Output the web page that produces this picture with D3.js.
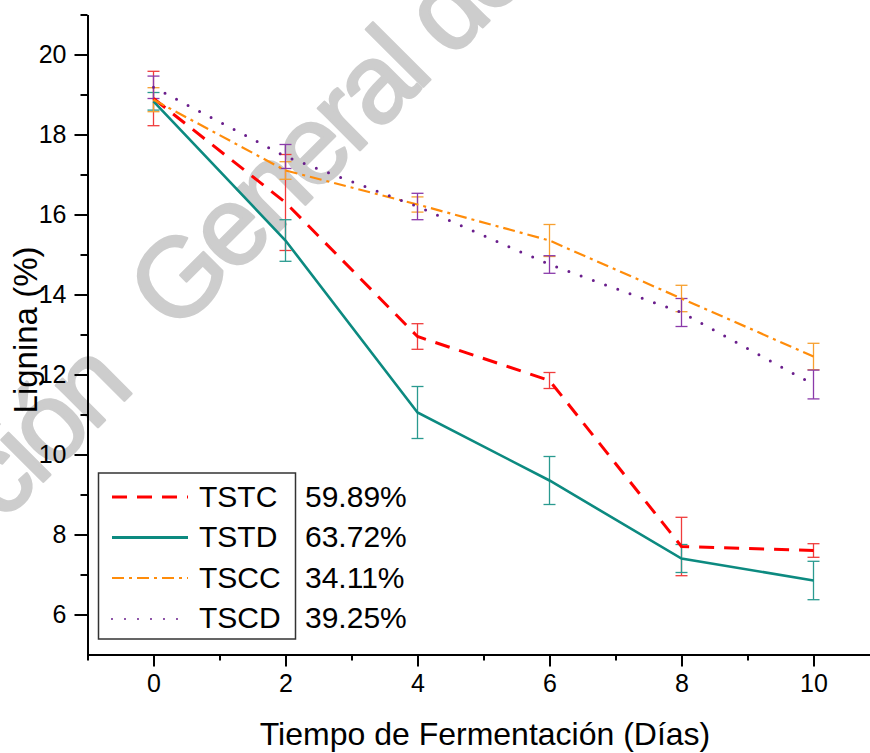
<!DOCTYPE html>
<html>
<head>
<meta charset="utf-8">
<script src="https://cdn.jsdelivr.net/npm/d3@7"></script>
<style>
  body { margin: 0; background: #fff; }
  text { font-family: "Liberation Sans", Arial, sans-serif; }
</style>
</head>
<body>
<div id="chart"></div>
<script>
// data
var days = [0, 2, 4, 6, 8, 10];
var tstc = [18.9, 16.3, 12.95, 11.85, 7.7, 7.6];
var tstcErr = [0.68, 1.2, 0.32, 0.2, 0.73, 0.17];
var tstd = [18.83, 15.35, 11.05, 9.35, 7.4, 6.85];
var tstdErr = [0.22, 0.52, 0.65, 0.6, 0.35, 0.48];
var tscc = [18.87, 17.1, 16.25, 15.35, 13.9, 12.45];
var tsccErr = [0.3, 0.22, 0.19, 0.4, 0.33, 0.33];
var tscd = [19.18, 17.45, 16.2, 14.75, 13.55, 11.75];
var tscdErr = [0.28, 0.3, 0.33, 0.22, 0.35, 0.36];
var names = ["TSTC", "TSTD", "TSCC", "TSCD"];
var removal = ["59.89%", "63.72%", "34.11%", "39.25%"];
var xMajor = [0, 2, 4, 6, 8, 10];
var xMinor = [-1, 1, 3, 5, 7, 9, 11];
var yMajor = [6, 8, 10, 12, 14, 16, 18, 20];
var yMinor = [7, 9, 11, 13, 15, 17, 19, 21];

var width = 870, height = 753;

var svg = d3.select("#chart").append("svg")
    .attr("width", width)
    .attr("height", height);

var x = d3.scaleLinear().domain([-1, 11]).range([87.5, 879.5]);
var y = d3.scaleLinear().domain([5, 21]).range([654.5, 14.5]);

// watermark, sits under everything (two words on one slanted baseline)
var wm = svg.append("g")
    .attr("font-size", 112)
    .attr("letter-spacing", -5)
    .attr("fill", "#cdcdcd")
    .attr("stroke", "#cdcdcd")
    .attr("stroke-width", 2.5)
    .attr("stroke-linejoin", "round");
wm.append("text")
    .attr("transform", "translate(133,392) rotate(-45)")
    .attr("text-anchor", "end")
    .text("Dirección");
wm.append("text")
    .attr("transform", "translate(175,335) rotate(-45)")
    .text("General de Bibliotecas");

// axes
var xMinorAxis = d3.axisBottom(x).tickValues(xMinor).tickSize(6).tickFormat("").tickSizeOuter(0);
var xAxis = d3.axisBottom(x).tickValues(xMajor).tickSize(12).tickPadding(8).tickSizeOuter(0);
var yMinorAxis = d3.axisLeft(y).tickValues(yMinor).tickSize(7).tickFormat("").tickSizeOuter(0);
var yAxis = d3.axisLeft(y).tickValues(yMajor).tickSize(13).tickPadding(8).tickSizeOuter(0);

function styleAxis(g) {
  g.selectAll("path, line").attr("stroke", "#000").attr("stroke-width", 2);
  g.selectAll("text").attr("fill", "#000").attr("font-size", 25)
      .style("font-family", "Liberation Sans, Arial, sans-serif");
}

svg.append("g").attr("transform", "translate(0," + y(5) + ")").call(xMinorAxis).call(styleAxis);
svg.append("g").attr("transform", "translate(0," + y(5) + ")").call(xAxis).call(styleAxis);
svg.append("g").attr("transform", "translate(" + x(-1) + ",0)").call(yMinorAxis).call(styleAxis);
svg.append("g").attr("transform", "translate(" + x(-1) + ",0)").call(yAxis).call(styleAxis);

// axis titles
svg.append("text")
    .attr("x", 485).attr("y", 745)
    .attr("text-anchor", "middle")
    .attr("font-size", 32)
    .text("Tiempo de Fermentación (Días)");

svg.append("text")
    .attr("transform", "translate(37,330) rotate(-90)")
    .attr("text-anchor", "middle")
    .attr("font-size", 33)
    .text("Lignina (%)");

// series
var series = [
  {vals: tstc, err: tstcErr, color: "#ff0000", barColor: "#f03c3c", width: 3, dash: "15 10", cap: "butt"},
  {vals: tstd, err: tstdErr, color: "#0c8a80", barColor: "#2a9a90", width: 2.6, dash: null, cap: "butt"},
  {vals: tscc, err: tsccErr, color: "#ff8c0a", barColor: "#f7a030", width: 2.2, dash: "12 5 3 5", cap: "butt"},
  {vals: tscd, err: tscdErr, color: "#6a1e8c", barColor: "#8a3aaa", width: 3, dash: "0 13", cap: "round"}
];

var line = d3.line()
    .x(function(d, i) { return x(days[i]); })
    .y(function(d) { return y(d); });

var capHalf = 6;

series.forEach(function(s) {
  var bars = svg.append("g").attr("stroke", s.barColor).attr("stroke-width", 1.3).attr("fill", "none");
  s.vals.forEach(function(v, i) {
    var cx = x(days[i]), top = y(v + s.err[i]), bot = y(v - s.err[i]);
    bars.append("line").attr("x1", cx).attr("x2", cx).attr("y1", top).attr("y2", bot);
    bars.append("line").attr("x1", cx - capHalf).attr("x2", cx + capHalf).attr("y1", top).attr("y2", top);
    bars.append("line").attr("x1", cx - capHalf).attr("x2", cx + capHalf).attr("y1", bot).attr("y2", bot);
  });
});

series.forEach(function(s) {
  svg.append("path")
      .datum(s.vals)
      .attr("d", line)
      .attr("fill", "none")
      .attr("stroke", s.color)
      .attr("stroke-width", s.width)
      .attr("stroke-linecap", s.cap)
      .attr("stroke-dasharray", s.dash);
});

// legend
var legend = svg.append("g");
legend.append("rect")
    .attr("x", 98.5).attr("y", 473)
    .attr("width", 197).attr("height", 166)
    .attr("fill", "#fff")
    .attr("stroke", "#333").attr("stroke-width", 1.5);

var rowY = [497, 537.5, 578, 619];
var baseY = [507, 547, 588, 628];
series.forEach(function(s, i) {
  legend.append("line")
      .attr("x1", 112).attr("x2", 188)
      .attr("y1", rowY[i]).attr("y2", rowY[i])
      .attr("stroke", s.color)
      .attr("stroke-width", i < 2 ? 3 : 2)
      .attr("stroke-linecap", s.cap)
      .attr("stroke-dasharray", s.dash);
  legend.append("text")
      .attr("x", 199).attr("y", baseY[i])
      .attr("font-size", 30)
      .text(names[i]);
  legend.append("text")
      .attr("x", 305).attr("y", baseY[i])
      .attr("font-size", 30)
      .text(removal[i]);
});
</script>
</body>
</html>
